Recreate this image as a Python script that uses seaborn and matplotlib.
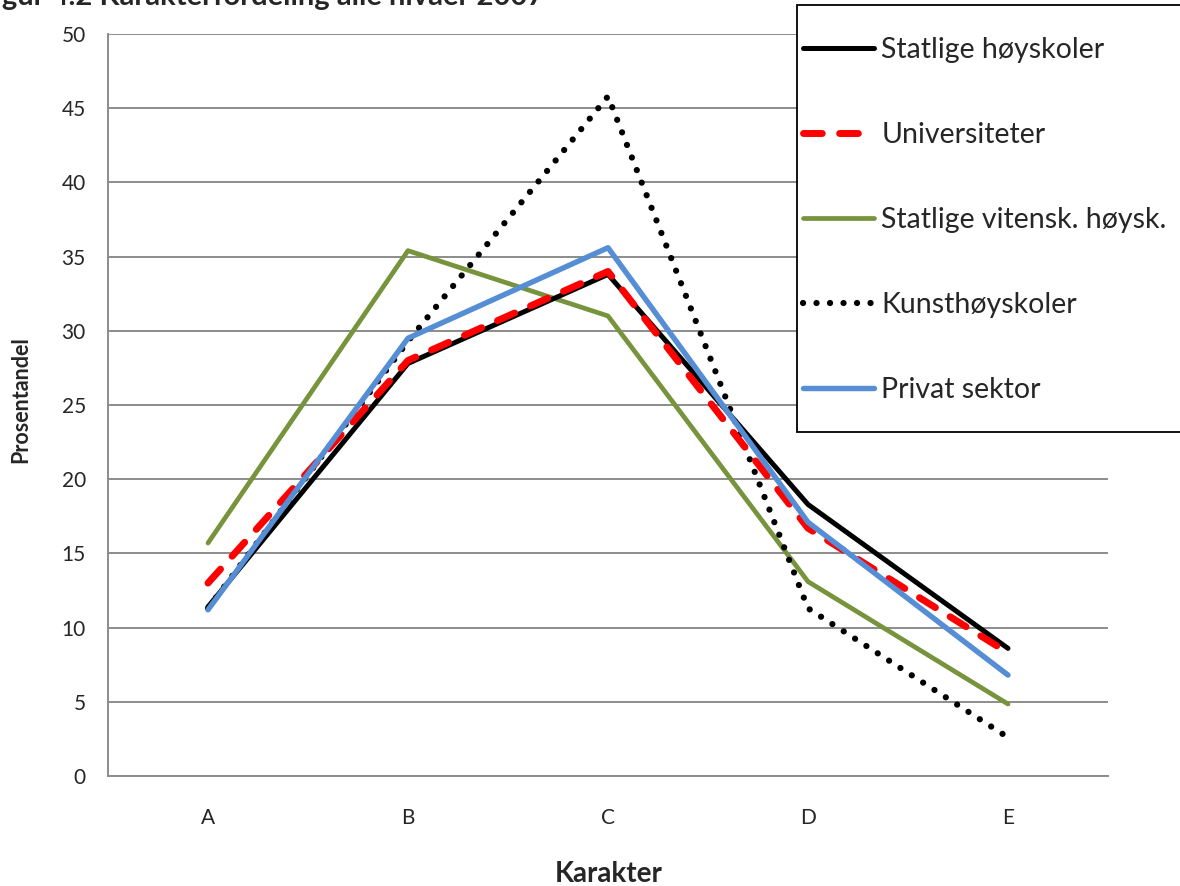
import matplotlib
matplotlib.use("Agg")
import matplotlib.pyplot as plt
import seaborn as sns
import pandas as pd
from matplotlib.patches import Rectangle
from matplotlib.ticker import FixedLocator, MultipleLocator

# Grade distribution (percent) per institution type
karakterer = ["A", "B", "C", "D", "E"]
statlige_hoyskoler = [11.4, 27.8, 33.8, 18.3, 8.6]
universiteter = [13.0, 28.0, 34.0, 16.7, 8.3]
statlige_vitensk = [15.7, 35.4, 31.0, 13.1, 4.85]
kunsthoyskoler = [11.3, 29.3, 45.8, 11.3, 2.6]
privat_sektor = [11.2, 29.5, 35.6, 17.1, 6.8]

serier = [
    ("Statlige høyskoler", statlige_hoyskoler),
    ("Universiteter", universiteter),
    ("Statlige vitensk. høysk.", statlige_vitensk),
    ("Kunsthøyskoler", kunsthoyskoler),
    ("Privat sektor", privat_sektor),
]

stiler = {
    "Statlige høyskoler": dict(color="black", lw=3.6, ls="-", cap="round"),
    "Universiteter": dict(color="#ff0000", lw=5.0, ls=(0, (2.7, 2.5)), cap="round"),
    "Statlige vitensk. høysk.": dict(color="#77933c", lw=3.4, ls="-", cap="round"),
    "Kunsthøyskoler": dict(color="black", lw=4.5, ls=(0, (0.01, 2.15)), cap="round"),
    "Privat sektor": dict(color="#558ed5", lw=3.9, ls="-", cap="round"),
}
zorders = {"Statlige vitensk. høysk.": 2, "Kunsthøyskoler": 3, "Statlige høyskoler": 4,
           "Universiteter": 5, "Privat sektor": 6}

W, H = 1180, 886
sns.set_theme(style="white")
plt.rcParams["font.family"] = ["Lato", "DejaVu Sans"]

fig = plt.figure(figsize=(W / 100, H / 100), dpi=100)
ax = fig.add_axes([108 / W, 1 - 776 / H, 1000 / W, 742 / H])

for navn, verdier in serier:
    df = pd.DataFrame({"Karakter": karakterer, "Prosentandel": verdier})
    st = stiler[navn]
    sns.lineplot(data=df, x="Karakter", y="Prosentandel", ax=ax, label=navn,
                 color=st["color"], linewidth=st["lw"], linestyle=st["ls"],
                 sort=False, zorder=zorders[navn])
    ln = ax.get_lines()[-1]
    ln.set_dash_capstyle(st["cap"])
    ln.set_solid_capstyle("round")

ax.set_xlim(-0.5, 4.5)
ax.set_ylim(0, 50)
ax.yaxis.set_major_locator(MultipleLocator(5))
ax.xaxis.set_major_locator(FixedLocator(range(5)))
ax.set_xticklabels(karakterer)
ax.xaxis.set_minor_locator(FixedLocator([-0.5, 0.5, 1.5, 2.5, 3.5, 4.5]))
ax.tick_params(axis="x", which="major", length=0, pad=23, labelsize=15)
ax.tick_params(axis="x", which="minor", length=8, width=1.4, color="#8c8c8c", direction="out")
ax.tick_params(axis="y", which="major", length=8, width=1.4, color="#8c8c8c", direction="out",
               pad=8, labelsize=15)
ax.grid(axis="y", color="#8c8c8c", linewidth=1.4)
ax.grid(axis="x", visible=False)
for side in ["top", "right"]:
    ax.spines[side].set_visible(False)
for side in ["left", "bottom"]:
    ax.spines[side].set_color("#8c8c8c")
    ax.spines[side].set_linewidth(1.4)

ax.set_xlabel("")
ax.set_ylabel("")
fig.text(609 / W, 1 - 874 / H, "Karakter", ha="center", va="center",
         fontsize=20, fontweight="bold")
fig.text(21 / W, 1 - 400 / H, "Prosentandel", ha="center", va="center",
         rotation=90, fontsize=15.5, fontweight="bold")

# Legend box (runs past the right edge of the figure)
ax.get_legend().remove()
handles, labels = ax.get_legend_handles_labels()
fig.patches.append(Rectangle((797 / W, 1 - 432 / H), 400 / W, 427 / H,
                             transform=fig.transFigure, fill=True, facecolor="white",
                             edgecolor="black", linewidth=1.3, zorder=5))
leg = fig.legend(handles, labels, loc="upper left",
                 bbox_to_anchor=(803 / W, 1 - 37 / H), bbox_transform=fig.transFigure,
                 frameon=False, fontsize=20.5, handlelength=2.5,
                 handletextpad=0.25, labelspacing=2.07, borderpad=0, borderaxespad=0)
leg.set_zorder(6)

fig.text(544 / W, 1 - 4.5 / H, "Figur 4.2 Karakterfordeling alle nivåer 2007",
         ha="right", va="baseline", fontsize=21, fontweight="bold")

fig.savefig("out.png", dpi=100)
